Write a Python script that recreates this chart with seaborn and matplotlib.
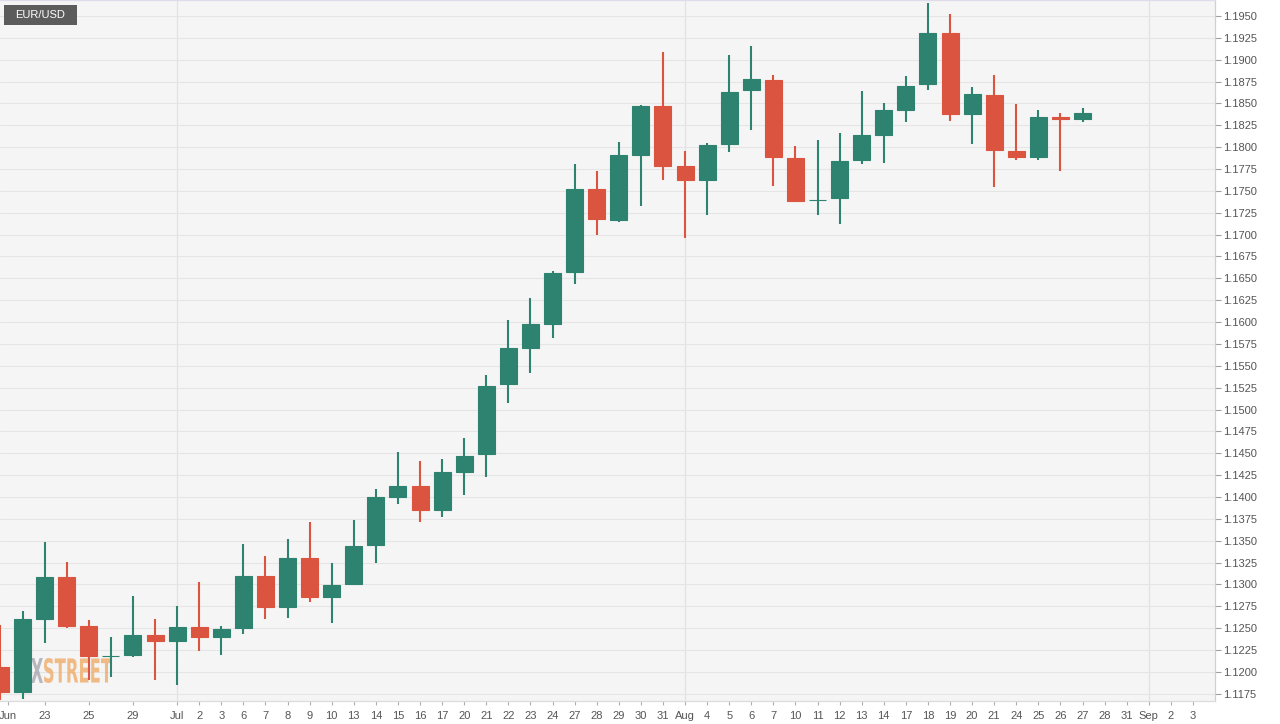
import numpy as np
import matplotlib
matplotlib.use('Agg')
import matplotlib.pyplot as plt
from matplotlib.patches import Rectangle, PathPatch
from matplotlib.textpath import TextPath
from matplotlib.font_manager import FontProperties
from matplotlib.transforms import Affine2D, IdentityTransform
import seaborn as sns

# EUR/USD daily candles, Jun 19 - Aug 27 (2020)
day_labels = ['Jun', '', '23', '', '25', '', '29', '', 'Jul', '2', '3',
              '6', '7', '8', '9', '10', '13', '14', '15', '16', '17',
              '20', '21', '22', '23', '24', '27', '28', '29', '30', '31',
              'Aug', '4', '5', '6', '7', '10', '11', '12', '13', '14',
              '17', '18', '19', '20', '21', '24', '25', '26', '27',
              '28', '31', 'Sep', '2', '3']

opens = [1.1206, 1.1177, 1.1261, 1.1309, 1.1252, 1.1218, 1.1219, 1.1242, 1.1235, 1.1251,
         1.1240, 1.1250, 1.1310, 1.1274, 1.1330, 1.1286, 1.1301, 1.1345, 1.1400, 1.1412,
         1.1385, 1.1429, 1.1449, 1.1529, 1.1570, 1.1598, 1.1657, 1.1752, 1.1717, 1.1791,
         1.1847, 1.1778, 1.1763, 1.1804, 1.1865, 1.1877, 1.1788, 1.1740, 1.1742, 1.1785,
         1.1814, 1.1843, 1.1872, 1.1931, 1.1838, 1.1860, 1.1796, 1.1789, 1.1835, 1.1832]
highs = [1.1254, 1.1270, 1.1349, 1.1326, 1.1259, 1.1240, 1.1287, 1.1261, 1.1275, 1.1303,
         1.1252, 1.1346, 1.1332, 1.1352, 1.1371, 1.1325, 1.1374, 1.1409, 1.1452, 1.1441,
         1.1443, 1.1467, 1.1539, 1.1602, 1.1628, 1.1658, 1.1781, 1.1773, 1.1806, 1.1848,
         1.1909, 1.1796, 1.1805, 1.1905, 1.1916, 1.1883, 1.1801, 1.1808, 1.1816, 1.1864,
         1.1851, 1.1881, 1.1965, 1.1952, 1.1869, 1.1883, 1.1849, 1.1843, 1.1839, 1.1845]
lows = [1.1168, 1.1169, 1.1233, 1.1250, 1.1191, 1.1194, 1.1217, 1.1191, 1.1185, 1.1224,
        1.1219, 1.1243, 1.1260, 1.1262, 1.1280, 1.1256, 1.1301, 1.1325, 1.1392, 1.1371,
        1.1377, 1.1402, 1.1423, 1.1507, 1.1542, 1.1582, 1.1643, 1.1700, 1.1715, 1.1733,
        1.1763, 1.1696, 1.1722, 1.1794, 1.1820, 1.1756, 1.1737, 1.1723, 1.1712, 1.1781,
        1.1782, 1.1829, 1.1865, 1.1830, 1.1804, 1.1754, 1.1785, 1.1785, 1.1773, 1.1829]
closes = [1.1177, 1.1260, 1.1309, 1.1252, 1.1218, 1.1218, 1.1242, 1.1235, 1.1251, 1.1240,
          1.1249, 1.1310, 1.1274, 1.1330, 1.1286, 1.1299, 1.1344, 1.1400, 1.1412, 1.1385,
          1.1428, 1.1447, 1.1527, 1.1570, 1.1598, 1.1656, 1.1752, 1.1718, 1.1791, 1.1847,
          1.1779, 1.1763, 1.1803, 1.1863, 1.1878, 1.1789, 1.1739, 1.1740, 1.1784, 1.1814,
          1.1843, 1.1870, 1.1931, 1.1838, 1.1861, 1.1797, 1.1789, 1.1835, 1.1832, 1.1839]

month_starts = ['Jul', 'Aug', 'Sep']

UP = '#2e8370'
DOWN = '#db5440'

sns.set_theme(style='whitegrid')
plt.rcParams['font.family'] = ['Liberation Sans', 'DejaVu Sans']

o = np.array(opens)
h = np.array(highs)
l = np.array(lows)
c = np.array(closes)
x = np.arange(len(o))
cols = np.where(c >= o, UP, DOWN)

fig = plt.figure(figsize=(12.8, 7.24), dpi=100)
fig.patch.set_facecolor('white')
ax = fig.add_axes([0, 23 / 724, 1215 / 1280, 701 / 724])
ax.set_facecolor('#f5f5f5')


def watermark(txt, left, bottom, width, height, color, alpha):
    # condensed-looking text: squeeze a text path into a pixel box
    tp = TextPath((0, 0), txt, size=1,
                  prop=FontProperties(family='DejaVu Sans', weight='bold'))
    ext = tp.get_extents()
    tr = (Affine2D().translate(-ext.x0, -ext.y0)
          .scale(width / ext.width, height / ext.height)
          .translate(left, bottom)) + IdentityTransform()
    p = PathPatch(tp, transform=tr, facecolor=color, edgecolor='none',
                  alpha=alpha, zorder=1)
    ax.add_artist(p)


# watermark sits under the candles (pixel boxes, origin bottom-left)
watermark('X', 31, 41, 12, 25, '#8c8c96', 0.6)
watermark('STREET', 44, 41, 68, 25, '#eea255', 0.7)

# candles
ax.vlines(x, l, h, colors=cols, lw=1.5, zorder=2)
ax.bar(x, np.abs(c - o), bottom=np.minimum(o, c), width=0.77,
       color=cols, edgecolor=cols, linewidth=0.8, zorder=3)

# axes
ax.set_xlim(-0.02, 55)
ax.set_ylim(1.11667, 1.19683)

yt = np.arange(1.1175, 1.19501, 0.0025)
ax.set_yticks(yt)
ax.set_yticklabels([f'{v:.4f}' for v in yt])
ax.yaxis.tick_right()

tick_pos = [i for i, s in enumerate(day_labels) if s]
tick_x = [i + 0.35 if i == 0 else i for i in tick_pos]
ax.set_xticks(tick_x)
ax.set_xticklabels([day_labels[i] for i in tick_pos])

ax.tick_params(axis='y', which='both', right=True, left=False, length=4, width=0.8,
               color='#a0a0a0', labelsize=8, labelcolor='#555555', pad=2)
ax.tick_params(axis='x', which='both', bottom=True, length=3, width=0.8,
               color='#b0b0b0', labelsize=8, labelcolor='#555555', pad=4)

ax.grid(axis='y', color='#e5e5e5', lw=0.8, zorder=0)
ax.grid(axis='x', visible=False)
for m in month_starts:
    ax.axvline(day_labels.index(m), color='#e2e2e2', lw=0.9, zorder=0)

ax.spines['left'].set_visible(False)
ax.spines['top'].set_color('#dcdcea')
ax.spines['right'].set_color('#d0d0d0')
ax.spines['bottom'].set_color('#dcdcdc')
for s in ['top', 'right', 'bottom']:
    ax.spines[s].set_linewidth(0.9)

# symbol badge
fig.patches.append(Rectangle((4 / 1280, 1 - 25 / 724), 73 / 1280, 20 / 724,
                             transform=fig.transFigure, facecolor='#5c5c5c',
                             edgecolor='none', zorder=5))
fig.text(40.5 / 1280, 1 - 15 / 724, 'EUR/USD', ha='center', va='center',
         color='white', fontsize=8, zorder=6)

fig.savefig('out.png', dpi=100)
